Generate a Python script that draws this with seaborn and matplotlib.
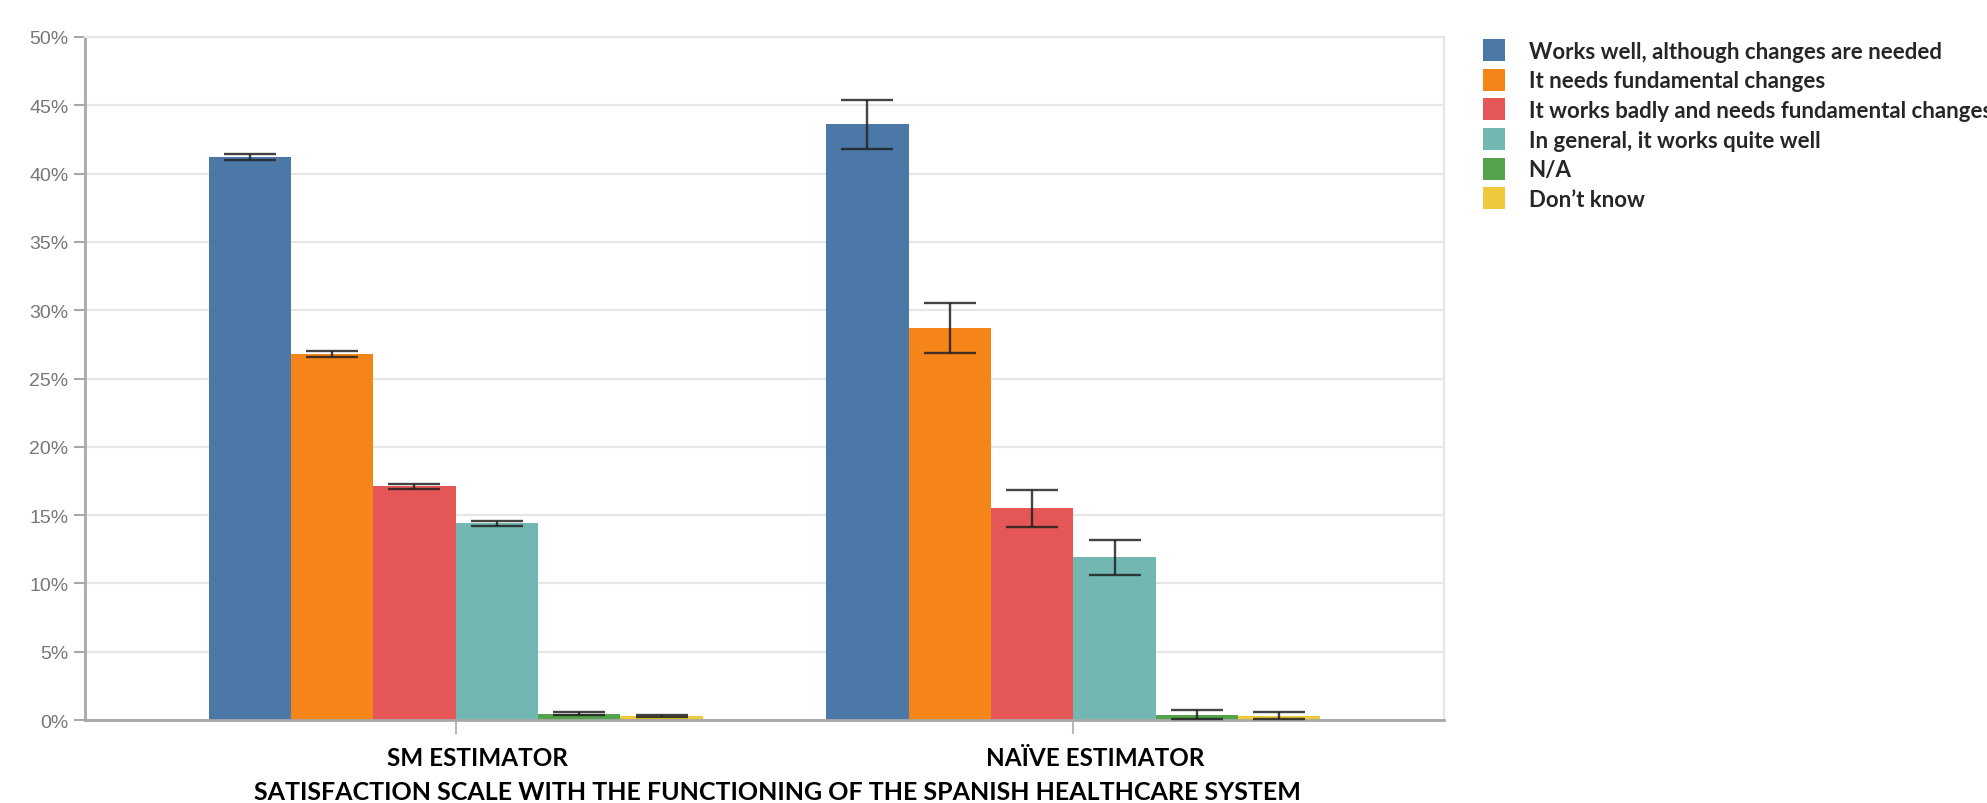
import matplotlib
matplotlib.use("Agg")
import matplotlib.pyplot as plt
import matplotlib.transforms as mtransforms
from matplotlib.ticker import PercentFormatter
import pandas as pd
import seaborn as sns

# values (percent)
estimators = ["SM ESTIMATOR", "NAÏVE ESTIMATOR"]
answers = [
    "Works well, although changes are needed",
    "It needs fundamental changes",
    "It works badly and needs fundamental changes",
    "In general, it works quite well",
    "N/A",
    "Don\u2019t know",
]
sm_values = [41.2, 26.8, 17.1, 14.4, 0.45, 0.3]
sm_errors = [0.2, 0.2, 0.2, 0.2, 0.1, 0.1]
naive_values = [43.6, 28.7, 15.5, 11.9, 0.4, 0.3]
naive_errors = [1.8, 1.85, 1.35, 1.25, 0.3, 0.25]
colors = ["#4C78A8", "#F58518", "#E45756", "#72B7B2", "#54A24B", "#EECA3B"]

df = pd.DataFrame({
    "estimator": [estimators[0]] * len(answers) + [estimators[1]] * len(answers),
    "answer": answers * 2,
    "value": sm_values + naive_values,
    "error": sm_errors + naive_errors,
})

sns.set_theme(style="white")
plt.rcParams["font.family"] = ["Liberation Sans", "DejaVu Sans"]

fig = plt.figure(figsize=(19.87, 8.04), dpi=100)
ax = fig.add_axes([85 / 1987, 1 - 721 / 804, (1444 - 85) / 1987, (721 - 38) / 804])

sns.barplot(data=df, x="estimator", y="value", hue="answer", order=estimators,
            hue_order=answers, palette=colors, errorbar=None, linewidth=0,
            saturation=1, ax=ax)

# error bars on top of the seaborn bars
for ans, cont in zip(answers, ax.containers):
    sub = df[df["answer"] == ans].set_index("estimator").loc[estimators]
    xs = [p.get_x() + p.get_width() / 2 for p in cont.patches]
    ax.errorbar(xs, sub["value"].values, yerr=sub["error"].values, fmt="none",
                ecolor="#222222", elinewidth=1.7, capsize=18.5, capthick=1.7,
                alpha=0.85, zorder=5)

ax.set_xlim(-0.6, 1.6)
ax.set_ylim(0, 50)
ax.set_yticks(range(0, 51, 5))
ax.yaxis.set_major_formatter(PercentFormatter(decimals=0))
ax.grid(axis="y", color="#e6e6e6", linewidth=1.6)
ax.set_axisbelow(True)

for side in ["top", "right"]:
    ax.spines[side].set_color("#e6e6e6")
    ax.spines[side].set_linewidth(1.6)
for side in ["left", "bottom"]:
    ax.spines[side].set_color("#a8a8a8")
    ax.spines[side].set_linewidth(2)

ax.tick_params(axis="y", length=8, width=1.5, color="#a8a8a8", pad=4,
               labelsize=14, labelcolor="#777777", left=True)
ax.tick_params(axis="x", length=10, width=1.5, color="#b8b8b8", pad=9,
               bottom=True)
ax.set_xticks([0, 1])
ax.set_xticklabels(estimators, fontfamily="Lato", fontweight="bold",
                   fontsize=17.5, color="black")
for lab in ax.get_xticklabels():
    lab.set_transform(lab.get_transform() +
                      mtransforms.ScaledTranslation(22 / 100, 0, fig.dpi_scale_trans))
ax.set_xlabel("")
ax.set_ylabel("")

fig.text(777 / 1987, 4 / 804,
         "SATISFACTION SCALE WITH THE FUNCTIONING OF THE SPANISH HEALTHCARE SYSTEM",
         ha="center", va="baseline", fontfamily="Lato", fontweight="bold",
         fontsize=18, color="black")

handles, labels = ax.get_legend_handles_labels()
ax.legend(handles, labels, loc="upper left", bbox_to_anchor=(1483 / 1987, 1 - 40 / 804),
          bbox_transform=fig.transFigure, frameon=False, borderpad=0, borderaxespad=0,
          handlelength=1.0, handleheight=1.15, handletextpad=1.05, labelspacing=0.32,
          prop={"family": "Lato", "weight": "bold", "size": 16})

fig.savefig("out.png", dpi=100)
